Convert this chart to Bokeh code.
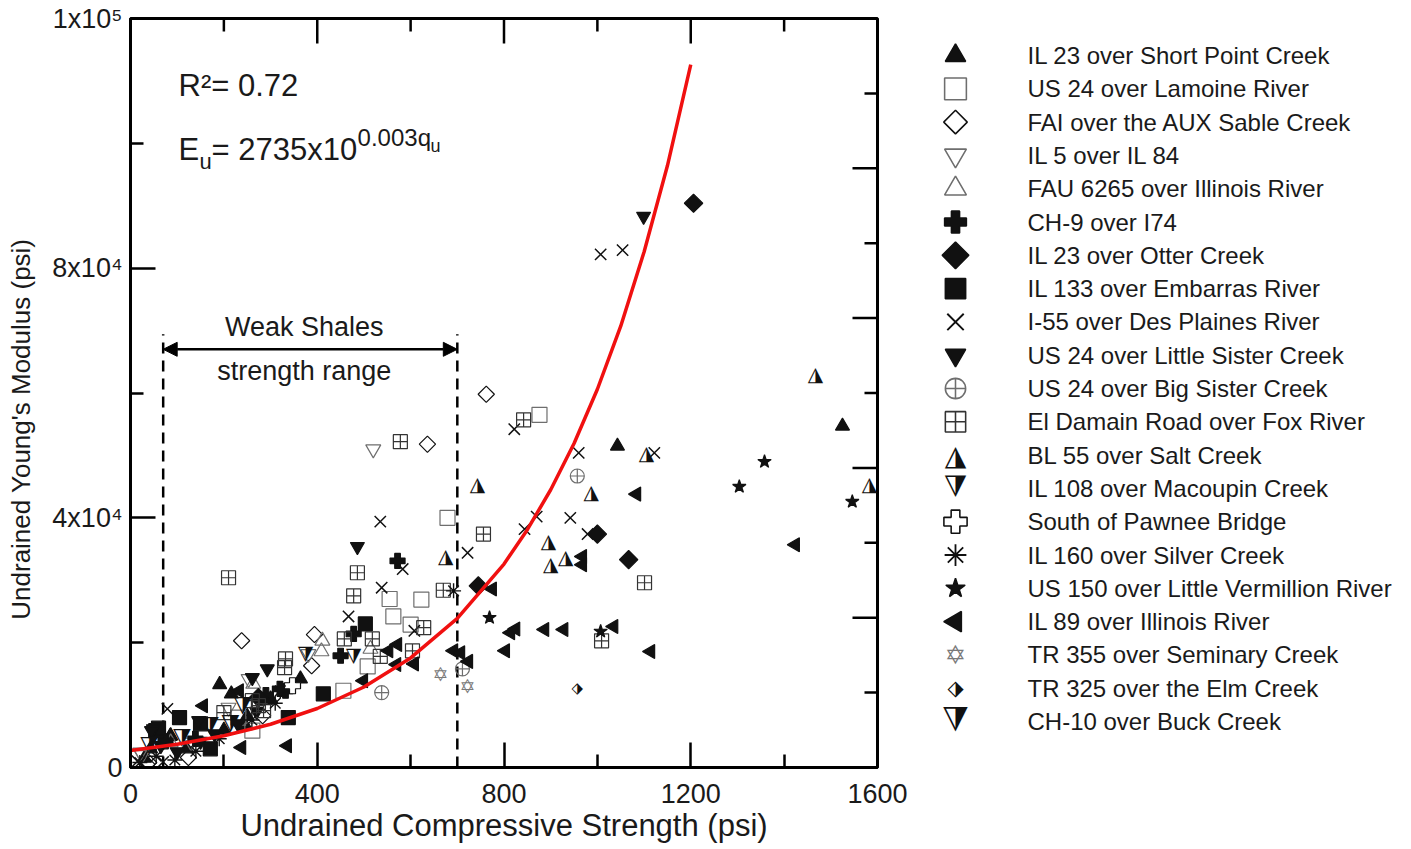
import numpy as np
from bokeh.plotting import figure
from bokeh.layouts import row
from bokeh.models import (Range1d, FixedTicker, Label, Arrow,
                          NormalHead, ColumnDataSource)
from bokeh.core.properties import value
from bokeh.embed import file_html
from bokeh.resources import INLINE

# ---------------- data ----------------
x_ticks = [0, 400, 800, 1200, 1600]
x_minor = [200, 600, 1000, 1400]
y_ticks = [0, 40000, 80000, 120000]
y_tick_labels = ["0", "4x10⁴", "8x10⁴", "1x10⁵"]
y_minor = [20000, 60000, 100000]
y2_ticks = [24000, 48000, 72000, 96000]
y2_minor = [12000, 36000, 60000, 84000, 108000]

series_names = [
    "IL 23 over Short Point Creek", "US 24 over Lamoine River",
    "FAI over the AUX Sable Creek", "IL 5 over IL 84",
    "FAU 6265 over Illinois River", "CH-9 over I74", "IL 23 over Otter Creek",
    "IL 133 over Embarras River", "I-55 over Des Plaines River",
    "US 24 over Little Sister Creek", "US 24 over Big Sister Creek",
    "El Damain Road over Fox River", "BL 55 over Salt Creek",
    "IL 108 over Macoupin Creek", "South of Pawnee Bridge",
    "IL 160 over Silver Creek", "US 150 over Little Vermillion River",
    "IL 89 over Illinois River", "TR 355 over Seminary Creek",
    "TR 325 over the Elm Creek", "CH-10 over Buck Creek",
]

s01_q = [1043, 1525, 191, 216, 43, 86, 246, 289, 364, 30, 85, 120, 200, 250, 300]
s01_E = [51500, 54700, 13300, 11800, 3000, 5100, 6700, 10700, 14200, 1500, 5000, 3000, 6000, 8200, 11000]
s02_q = [876, 679, 555, 623, 563, 600, 508, 456, 231, 261]
s02_E = [56500, 40000, 27000, 26900, 24200, 22900, 16200, 12300, 8000, 5900]
s03_q = [762, 636, 238, 394, 388, 283, 124, 39, 35]
s03_E = [59800, 51800, 20300, 21300, 16300, 8300, 1600, 800, 500]
s04_q = [520, 381, 253, 210, 21, 25, 130]
s04_E = [51000, 18200, 14200, 9600, 2400, 2000, 4000]
s05_q = [409, 263, 411, 514, 86]
s05_E = [18600, 13400, 20300, 19000, 4000]
s06_q = [572, 450, 478, 332, 139, 75, 290, 320]
s06_E = [33100, 17900, 21400, 12300, 4600, 4200, 11600, 12600]
s07_q = [1206, 1000, 1067, 745, 274]
s07_E = [90400, 37400, 33300, 29100, 11200]
s08_q = [503, 413, 338, 105, 54, 171, 60, 150]
s08_E = [23000, 11800, 8000, 8000, 5900, 3000, 6300, 7000]
s09_q = [1007, 1054, 822, 960, 1122, 535, 870, 844, 942, 979, 722, 583, 538, 467, 608, 79, 15, 70]
s09_E = [82200, 82900, 54200, 50400, 50400, 39400, 40200, 38200, 40000, 37400, 34400, 31800, 28800, 24200, 21900, 9400, 1000, 900]
s10_q = [1099, 486, 293, 261, 49, 146, 45, 65, 100, 150, 180, 230, 270]
s10_E = [88300, 35400, 15800, 14400, 6200, 7500, 5900, 3500, 2500, 4200, 5400, 7000, 9000]
s11_q = [957, 711, 538]
s11_E = [46700, 15800, 12000]
s12_q = [210, 578, 842, 756, 486, 478, 670, 628, 458, 518, 604, 535, 1101, 1009, 332, 261, 274, 285, 200, 330]
s12_E = [30400, 52200, 55700, 37400, 31200, 27500, 28400, 22400, 20600, 20600, 18700, 17800, 29600, 20300, 17400, 10700, 9900, 9100, 8800, 16000]
s13_q = [1467, 1583, 743, 1105, 987, 895, 932, 900, 675]
s13_E = [63000, 45400, 45400, 50400, 44200, 36300, 33800, 32600, 33900]
s14_q = [478, 375]
s14_E = [17600, 17900]
s15_q = [347]
s15_E = [13100]
s16_q = [692, 321, 20, 55, 95, 140, 190, 260, 310]
s16_E = [28300, 12300, 800, 1800, 1200, 2600, 4600, 7600, 10300]
s17_q = [1358, 1304, 1546, 769, 1007]
s17_E = [49000, 45000, 42600, 24000, 21800]
s18_q = [1424, 1084, 968, 968, 775, 887, 928, 1035, 1114, 814, 825, 572, 553, 692, 707, 803, 724, 608, 570, 499, 238, 336, 233, 156]
s18_E = [35700, 43800, 33800, 32500, 28600, 22100, 22100, 22600, 18600, 21600, 22200, 19700, 18700, 18700, 18400, 18700, 17000, 16600, 16500, 13900, 3200, 3500, 12300, 9900]
s19_q = [664, 722]
s19_E = [15000, 13100]
s20_q = [957]
s20_E = [12800]
s21_q = [214, 40, 110, 170, 240]
s21_E = [6700, 3200, 4400, 6300, 9600]

fit_q = [0, 100, 200, 300, 400, 500, 600, 700, 800, 850, 900, 950, 1000, 1050, 1100, 1150, 1200]
fit_E = [2735, 3730, 5080, 6930, 9450, 12900, 17550, 23900, 32600, 38100, 44500, 51900, 60600, 70700, 82600, 96400, 112600]

weak_q = [70, 700]
weak_top = 69400
weak_arrow_E = 67000

series_q = [s01_q, s02_q, s03_q, s04_q, s05_q, s06_q, s07_q, s08_q, s09_q, s10_q, s11_q,
            s12_q, s13_q, s14_q, s15_q, s16_q, s17_q, s18_q, s19_q, s20_q, s21_q]
series_E = [s01_E, s02_E, s03_E, s04_E, s05_E, s06_E, s07_E, s08_E, s09_E, s10_E, s11_E,
            s12_E, s13_E, s14_E, s15_E, s16_E, s17_E, s18_E, s19_E, s20_E, s21_E]

# ---------------- styles ----------------
BLK = "#111111"
GRY = "#6e6e6e"
D45 = np.pi / 4
styles = [
    dict(kind="m", marker="triangle", fill=BLK, line=BLK, size=14),
    dict(kind="m", marker="square", fill=None, line=GRY, size=15),
    dict(kind="m", marker="square", fill=None, line=BLK, size=11.5, angle=D45),
    dict(kind="m", marker="inverted_triangle", fill=None, line=GRY, size=15),
    dict(kind="m", marker="triangle", fill=None, line=GRY, size=15),
    dict(kind="m", marker="plus", fill=BLK, line=BLK, size=15),
    dict(kind="m", marker="square", fill=BLK, line=BLK, size=13, angle=D45),
    dict(kind="m", marker="square", fill=BLK, line=BLK, size=14),
    dict(kind="m", marker="x", fill=None, line=BLK, size=16, lw=1.5),
    dict(kind="m", marker="inverted_triangle", fill=BLK, line=BLK, size=14),
    dict(kind="m", marker="circle_cross", fill=None, line=GRY, size=14),
    dict(kind="m", marker="square_cross", fill=None, line="#333333", size=14),
    dict(kind="t", char="◮", color=BLK, size=20, angle=0.0),
    dict(kind="t", char="◭", color=BLK, size=20, angle=np.pi),
    dict(kind="m", marker="plus", fill="white", line=BLK, size=16),
    dict(kind="m", marker="asterisk", fill=None, line=BLK, size=15, lw=1.4),
    dict(kind="m", marker="star", fill=BLK, line=BLK, size=14),
    dict(kind="m", marker="triangle", fill=BLK, line=BLK, size=14, angle=np.pi / 2),
    dict(kind="t", char="✡", color="#7a7a7a", size=19, angle=0.0),
    dict(kind="t", char="⬗", color=BLK, size=15, angle=0.0),
    dict(kind="t", char="◭", color=BLK, size=23, angle=np.pi),
]

FONT_NAME = "Liberation Sans"
FONT = value(FONT_NAME)
SYM_FONT = value("DejaVu Sans")
TXT = "#1a1a1a"

H = 849
TOP = 18
BOT = H - TOP - 749

# ---------------- main figure ----------------
p = figure(width=912, height=H, x_range=Range1d(0, 1600), y_range=Range1d(0, 120000),
           output_backend="svg", toolbar_location=None,
           min_border_left=130, min_border_right=35, min_border_top=TOP, min_border_bottom=BOT)
p.xgrid.visible = False
p.ygrid.visible = False
p.outline_line_color = "black"
p.outline_line_width = 3
p.background_fill_color = "white"
p.border_fill_color = "white"

def style_axis(ax, ticks, minor):
    ax.ticker = FixedTicker(ticks=ticks, minor_ticks=minor)
    ax.axis_line_color = "black"
    ax.axis_line_width = 3
    ax.major_tick_in = 25
    ax.major_tick_out = 0
    ax.minor_tick_in = 13
    ax.minor_tick_out = 0
    ax.major_tick_line_width = 2.5
    ax.minor_tick_line_width = 2.5
    ax.major_tick_line_color = "black"
    ax.minor_tick_line_color = "black"
    ax.major_label_text_font = FONT_NAME
    ax.major_label_text_font_size = "27px"
    ax.major_label_text_color = TXT
    ax.axis_label_text_font = FONT_NAME
    ax.axis_label_text_font_style = "normal"
    ax.axis_label_text_color = TXT

xa = p.xaxis[0]
style_axis(xa, x_ticks, x_minor)
xa.axis_label = "Undrained Compressive Strength (psi)"
xa.axis_label_text_font_size = "31px"
xa.major_label_standoff = 16
xa.axis_label_standoff = 2

ya = p.yaxis[0]
style_axis(ya, y_ticks, y_minor)
ya.major_label_overrides = {t: l for t, l in zip(y_ticks, y_tick_labels)}
ya.major_label_standoff = 8
# trailing no-break spaces push the visible title a little below the frame centre
ya.axis_label = "Undrained Young's Modulus (psi)" + "\u00a0" * 10
ya.axis_label_text_font_size = "26px"
ya.axis_label_standoff = 13

# inward ticks of the top and right frame edges (half of each dash is clipped by the frame)
p.scatter(x=x_ticks, y=[120000] * len(x_ticks), marker="dash", size=50, angle=np.pi / 2,
          line_color="black", line_width=2.5)
p.scatter(x=x_minor, y=[120000] * len(x_minor), marker="dash", size=26, angle=np.pi / 2,
          line_color="black", line_width=2.5)
p.scatter(x=[1600] * len(y2_ticks), y=y2_ticks, marker="dash", size=50,
          line_color="black", line_width=2.5)
p.scatter(x=[1600] * len(y2_minor), y=y2_minor, marker="dash", size=26,
          line_color="black", line_width=2.5)

# weak shale range
p.segment(x0=weak_q, y0=[0, 0], x1=weak_q, y1=[weak_top, weak_top],
          line_color="black", line_width=2.5, line_dash="11 7")
p.add_layout(Arrow(x_start=weak_q[0], y_start=weak_arrow_E, x_end=weak_q[1], y_end=weak_arrow_E,
                   line_width=2.5, line_color="black",
                   start=NormalHead(size=14, fill_color="black", line_color="black"),
                   end=NormalHead(size=14, fill_color="black", line_color="black")))
mid_q = (weak_q[0] + weak_q[1]) / 2
for txt, yy in [("Weak Shales", 70500), ("strength range", 63600)]:
    p.add_layout(Label(x=mid_q, y=yy, x_offset=-6, text=txt, text_font=FONT_NAME,
                       text_font_size="27px", text_align="center", text_baseline="middle",
                       text_color=TXT))

# data points
for st, qs, Es in zip(styles, series_q, series_E):
    if st["kind"] == "m":
        p.scatter(x=qs, y=Es, marker=st["marker"], size=st["size"],
                  fill_color=st["fill"], line_color=st["line"],
                  line_width=st.get("lw", 1.2), angle=st.get("angle", 0.0))
    else:
        src = ColumnDataSource(dict(q=qs, E=Es, g=[st["char"]] * len(qs)))
        p.text(x="q", y="E", text="g", source=src, text_font=SYM_FONT,
               text_font_size=f"{st['size']}px", text_color=st["color"],
               text_align="center", text_baseline="middle", angle=st["angle"])

# fitted curve
p.line(fit_q, fit_E, line_color="#f01010", line_width=3.5)

# equation annotations
ax0 = 103
def lab(**kw):
    base = dict(text_font=FONT_NAME, text_baseline="middle", text_color=TXT)
    base.update(kw)
    p.add_layout(Label(**base))

lab(x=ax0, y=109300, text="R²= 0.72", text_font_size="31px")
ey = 99000
lab(x=ax0, y=ey, text="E", text_font_size="31px")
lab(x=ax0, y=ey - 1900, x_offset=21, text="u", text_font_size="22px")
lab(x=ax0, y=ey, x_offset=33, text="= 2735x10", text_font_size="31px")
lab(x=ax0, y=ey + 1900, x_offset=179, text="0.003q", text_font_size="24px")
lab(x=ax0, y=ey + 500, x_offset=252, text="u", text_font_size="18px")

# ---------------- legend figure ----------------
ROW = 33.3
FIRST = 37  # px below frame top
leg = figure(width=490, height=H, x_range=Range1d(0, 490),
             y_range=Range1d((749 - FIRST) / ROW, -FIRST / ROW),
             x_axis_type=None, y_axis_type=None,
             output_backend="svg", toolbar_location=None,
             min_border_left=0, min_border_right=0, min_border_top=TOP, min_border_bottom=BOT)
leg.xgrid.visible = False
leg.ygrid.visible = False
leg.outline_line_color = None

idx = list(range(len(series_names)))
leg.text(x=115, y=idx, text=series_names, text_font=FONT, text_font_size="24px",
         text_baseline="middle", text_align="left", text_color=TXT)
for i, st in enumerate(styles):
    if st["kind"] == "m":
        leg.scatter(x=[43], y=[i], marker=st["marker"], size=st["size"] * 1.45,
                    fill_color=st["fill"], line_color=st["line"],
                    line_width=st.get("lw", 1.2) * 1.3, angle=st.get("angle", 0.0))
    else:
        leg.text(x=[43], y=[i], text=[st["char"]], text_font=SYM_FONT,
                 text_font_size=f"{int(st['size'] * 1.4)}px", text_color=st["color"],
                 text_align="center", text_baseline="middle", angle=st["angle"])

layout = row(p, leg)
open("out.html", "w").write(file_html(layout, INLINE))
